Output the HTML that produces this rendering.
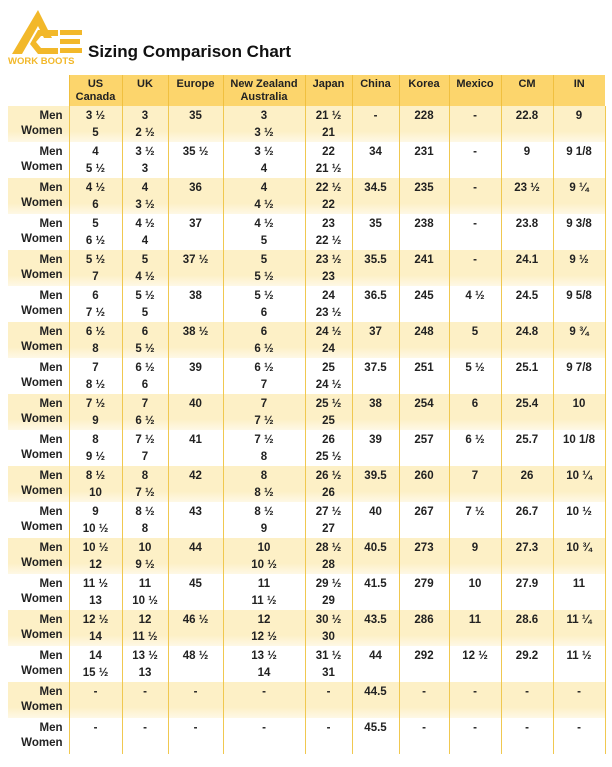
<!DOCTYPE html>
<html><head><meta charset="utf-8"><style>
body{margin:0;width:612px;height:767px;background:#fff;font-family:"Liberation Sans",Arial,sans-serif;position:relative;overflow:hidden}
.title{position:absolute;left:88px;top:42px;font-size:17px;font-weight:bold;color:#111}
table{position:absolute;left:8px;top:75px;border-collapse:collapse;font-size:11.5px;font-weight:bold;color:#222;table-layout:fixed}
th{background:#fcd56c;height:28px;vertical-align:top;padding:3px 0 0;font-size:11px;line-height:13px;border-left:1px solid #f0c040}
th.e{background:none;border:none}
td{height:34px;padding:2px 0 0;vertical-align:top;text-align:center;border-left:1px solid #f0c850;line-height:17px;overflow:hidden}
td.l{text-align:right;padding:3px 6px 0 0;height:33px;border:none;line-height:15px}
tr.s td{background:linear-gradient(#fdf0c6 70%,#fef8e6)}
td:last-child{border-right:1px solid #f0c850}
</style></head><body>
<svg style="position:absolute;left:8px;top:8px" width="76" height="56" viewBox="0 0 76 56">
<polygon points="30,2 4,46 14,46 30,18 36,30 44,30" fill="#f2b82a"/>
<path d="M50 22 H30 L22 36 L30 46 H50 V40 H33 L28 34 L33 28 H50Z" fill="#f2b82a"/>
<rect x="52" y="22" width="22" height="5" fill="#f2b82a"/><rect x="52" y="31" width="20" height="5" fill="#f2b82a"/><rect x="52" y="40" width="22" height="5" fill="#f2b82a"/>
<text x="0" y="56" font-family="Liberation Sans" font-weight="bold" font-size="9.5" fill="#f2b82a">WORK BOOTS</text>
</svg>
<div class="title">Sizing Comparison Chart</div>
<table>
<colgroup><col style="width:61px"><col style="width:53px"><col style="width:46px"><col style="width:55px"><col style="width:82px"><col style="width:47px"><col style="width:47px"><col style="width:50px"><col style="width:52px"><col style="width:52px"><col style="width:52px"></colgroup>
<tr><th class="e"></th><th>US<br>Canada</th><th>UK</th><th>Europe</th><th>New Zealand<br>Australia</th><th>Japan</th><th>China</th><th>Korea</th><th>Mexico</th><th>CM</th><th>IN</th></tr>
<tr class="s"><td class="l">Men<br>Women</td><td>3 ½<br>5</td><td>3<br>2 ½</td><td>35</td><td>3<br>3 ½</td><td>21 ½<br>21</td><td>-</td><td>228</td><td>-</td><td>22.8</td><td>9</td></tr>
<tr><td class="l">Men<br>Women</td><td>4<br>5 ½</td><td>3 ½<br>3</td><td>35 ½</td><td>3 ½<br>4</td><td>22<br>21 ½</td><td>34</td><td>231</td><td>-</td><td>9</td><td>9 1/8</td></tr>
<tr class="s"><td class="l">Men<br>Women</td><td>4 ½<br>6</td><td>4<br>3 ½</td><td>36</td><td>4<br>4 ½</td><td>22 ½<br>22</td><td>34.5</td><td>235</td><td>-</td><td>23 ½</td><td>9 ¼</td></tr>
<tr><td class="l">Men<br>Women</td><td>5<br>6 ½</td><td>4 ½<br>4</td><td>37</td><td>4 ½<br>5</td><td>23<br>22 ½</td><td>35</td><td>238</td><td>-</td><td>23.8</td><td>9 3/8</td></tr>
<tr class="s"><td class="l">Men<br>Women</td><td>5 ½<br>7</td><td>5<br>4 ½</td><td>37 ½</td><td>5<br>5 ½</td><td>23 ½<br>23</td><td>35.5</td><td>241</td><td>-</td><td>24.1</td><td>9 ½</td></tr>
<tr><td class="l">Men<br>Women</td><td>6<br>7 ½</td><td>5 ½<br>5</td><td>38</td><td>5 ½<br>6</td><td>24<br>23 ½</td><td>36.5</td><td>245</td><td>4 ½</td><td>24.5</td><td>9 5/8</td></tr>
<tr class="s"><td class="l">Men<br>Women</td><td>6 ½<br>8</td><td>6<br>5 ½</td><td>38 ½</td><td>6<br>6 ½</td><td>24 ½<br>24</td><td>37</td><td>248</td><td>5</td><td>24.8</td><td>9 ¾</td></tr>
<tr><td class="l">Men<br>Women</td><td>7<br>8 ½</td><td>6 ½<br>6</td><td>39</td><td>6 ½<br>7</td><td>25<br>24 ½</td><td>37.5</td><td>251</td><td>5 ½</td><td>25.1</td><td>9 7/8</td></tr>
<tr class="s"><td class="l">Men<br>Women</td><td>7 ½<br>9</td><td>7<br>6 ½</td><td>40</td><td>7<br>7 ½</td><td>25 ½<br>25</td><td>38</td><td>254</td><td>6</td><td>25.4</td><td>10</td></tr>
<tr><td class="l">Men<br>Women</td><td>8<br>9 ½</td><td>7 ½<br>7</td><td>41</td><td>7 ½<br>8</td><td>26<br>25 ½</td><td>39</td><td>257</td><td>6 ½</td><td>25.7</td><td>10 1/8</td></tr>
<tr class="s"><td class="l">Men<br>Women</td><td>8 ½<br>10</td><td>8<br>7 ½</td><td>42</td><td>8<br>8 ½</td><td>26 ½<br>26</td><td>39.5</td><td>260</td><td>7</td><td>26</td><td>10 ¼</td></tr>
<tr><td class="l">Men<br>Women</td><td>9<br>10 ½</td><td>8 ½<br>8</td><td>43</td><td>8 ½<br>9</td><td>27 ½<br>27</td><td>40</td><td>267</td><td>7 ½</td><td>26.7</td><td>10 ½</td></tr>
<tr class="s"><td class="l">Men<br>Women</td><td>10 ½<br>12</td><td>10<br>9 ½</td><td>44</td><td>10<br>10 ½</td><td>28 ½<br>28</td><td>40.5</td><td>273</td><td>9</td><td>27.3</td><td>10 ¾</td></tr>
<tr><td class="l">Men<br>Women</td><td>11 ½<br>13</td><td>11<br>10 ½</td><td>45</td><td>11<br>11 ½</td><td>29 ½<br>29</td><td>41.5</td><td>279</td><td>10</td><td>27.9</td><td>11</td></tr>
<tr class="s"><td class="l">Men<br>Women</td><td>12 ½<br>14</td><td>12<br>11 ½</td><td>46 ½</td><td>12<br>12 ½</td><td>30 ½<br>30</td><td>43.5</td><td>286</td><td>11</td><td>28.6</td><td>11 ¼</td></tr>
<tr><td class="l">Men<br>Women</td><td>14<br>15 ½</td><td>13 ½<br>13</td><td>48 ½</td><td>13 ½<br>14</td><td>31 ½<br>31</td><td>44</td><td>292</td><td>12 ½</td><td>29.2</td><td>11 ½</td></tr>
<tr class="s"><td class="l">Men<br>Women</td><td>-</td><td>-</td><td>-</td><td>-</td><td>-</td><td>44.5</td><td>-</td><td>-</td><td>-</td><td>-</td></tr>
<tr><td class="l">Men<br>Women</td><td>-</td><td>-</td><td>-</td><td>-</td><td>-</td><td>45.5</td><td>-</td><td>-</td><td>-</td><td>-</td></tr>
</table>
</body></html>
